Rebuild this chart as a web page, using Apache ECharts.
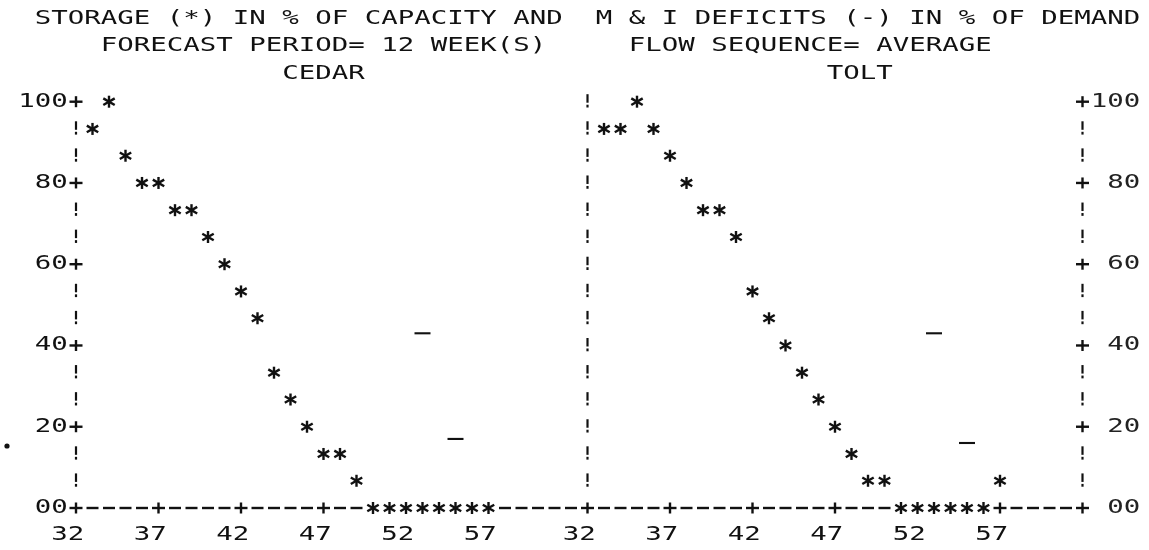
<!DOCTYPE html>
<html>
<head>
<meta charset="utf-8">
<script src="https://cdn.jsdelivr.net/npm/echarts@6/dist/echarts.min.js"></script>
<style>
  html, body { margin: 0; padding: 0; background: #fff; }
  #chart { width: 1149px; height: 550px; }
</style>
</head>
<body>
<div id="chart"></div>
<script>
// ---- data: one print column per week, storage rounded to print lines ----
const weeks = [33, 34, 35, 36, 37, 38, 39, 40, 41, 42, 43, 44, 45, 46, 47, 48, 49, 50, 51, 52, 53, 54, 55, 56, 57];
const cedarStorage = [93.3, 100, 86.7, 80, 80, 73.3, 73.3, 66.7, 60, 53.3, 46.7, 33.3, 26.7, 20, 13.3, 13.3, 6.7, 0, 0, 0, 0, 0, 0, 0, 0];
const toltStorage  = [93.3, 93.3, 100, 93.3, 86.7, 80, 73.3, 73.3, 66.7, 53.3, 46.7, 40, 33.3, 26.7, 20, 13.3, 6.7, 6.7, 0, 0, 0, 0, 0, 0, 6.7];
const deficitWeeks = [53, 55];
const cedarDeficit = [43, 17];
const toltDeficit  = [43, 16];

const weekTicks  = [32, 37, 42, 47, 52, 57];
const weekLabels = ['32', '37', '42', '47', '52', '57'];
const valueTicks = [0, 20, 40, 60, 80, 100];
const valueLabels = ['00', '20', '40', '60', '80', '100'];

const titleLine1 = 'STORAGE (*) IN % OF CAPACITY AND  M & I DEFICITS (-) IN % OF DEMAND';
const titleLine2a = 'FORECAST PERIOD= 12 WEEK(S)';
const titleLine2b = 'FLOW SEQUENCE= AVERAGE';
const panelNames = ['CEDAR', 'TOLT'];

// ---- printer layout ----
const CELL = 16.5;            // width of one print column
const PLOT_LEFT = 76;
const PLOT_TOP = 101.7;
const PLOT_H = 406.3;
const LEFT_COLS = 31;         // CEDAR panel columns up to the TOLT axis
const RIGHT_COLS = 30;
const LINES_PER_TICK = 3;
const ROW_STEP = (valueTicks[1] - valueTicks[0]) / LINES_PER_TICK;
const N_ROWS = Math.round((valueTicks[valueTicks.length - 1] - valueTicks[0]) / ROW_STEP);
const LAST_WEEK = 62;
const FONT_SIZE = 19;
const FONT = FONT_SIZE + 'px "DejaVu Sans Mono"';
const SCALE_X = CELL / (0.6021 * FONT_SIZE);
const INK = '#111';

// glyph kinds drawn as strokes
const PLUS = 0, BANG = 1, DASH = 2, STAR = 3, BAR = 4;
const GLYPHS = {
  [PLUS]: { w: 2.4, segs: [[-6.5, 0, 6.5, 0], [0, -5.5, 0, 5.5]] },
  [BANG]: { w: 2.2, segs: [[0, -7.5, 0, 1], [0, 3, 0, 5.8]] },
  [DASH]: { w: 2.4, segs: [[-6, 0, 6, 0]] },
  [STAR]: { w: 2.4, segs: [[0, -6, 0, 6], [-5.7, -3.3, 5.7, 3.3], [-5.7, 3.3, 5.7, -3.3]] },
  [BAR]:  { w: 2.1, segs: [[-8, 0, 8, 0]] }
};

function glyphAt(p, kind) {
  const g = GLYPHS[kind];
  return {
    type: 'group',
    children: g.segs.map(s => ({
      type: 'line',
      shape: { x1: p[0] + s[0], y1: p[1] + s[1], x2: p[0] + s[2], y2: p[1] + s[3] },
      style: { stroke: INK, lineWidth: g.w, lineCap: 'butt' }
    }))
  };
}

function renderGlyph(params, api) {
  const p = api.coord([api.value(0), api.value(1)]);
  return glyphAt(p, api.value(2));
}

// axis frame built from print characters: '+' at ticks, '!' between, '-' along the base
function frameGlyphs(storage, plusOnLeftTicks, rightAxis) {
  const out = [];
  for (let k = 1; k <= N_ROWS; k++) {
    const v = k * ROW_STEP;
    out.push([weekTicks[0], v, (plusOnLeftTicks && k % LINES_PER_TICK === 0) ? PLUS : BANG]);
    if (rightAxis) out.push([LAST_WEEK, v, k % LINES_PER_TICK === 0 ? PLUS : BANG]);
  }
  out.push([weekTicks[0], 0, PLUS]);
  for (let w = weekTicks[0] + 1; w <= LAST_WEEK; w++) {
    const i = weeks.indexOf(w);
    if (i >= 0 && storage[i] === 0) continue;
    if (rightAxis && w === LAST_WEEK) { out.push([w, 0, PLUS]); continue; }
    out.push([w, 0, weekTicks.includes(w) ? PLUS : DASH]);
  }
  return out;
}

function glyphSeries(idx, pts, kind, name) {
  return {
    type: 'custom', name: name, xAxisIndex: idx, yAxisIndex: idx,
    clip: false, silent: true,
    dimensions: ['week', 'value', 'kind'],
    encode: { x: 0, y: 1 },
    data: pts.map(p => [p[0], p[1], p.length > 2 ? p[2] : kind]),
    renderItem: renderGlyph
  };
}

const chart = echarts.init(document.getElementById('chart'), null, { renderer: 'canvas' });

chart.setOption({
  animation: false,
  backgroundColor: '#fff',
  grid: [
    { left: PLOT_LEFT, top: PLOT_TOP, width: CELL * LEFT_COLS, height: PLOT_H, outerBoundsMode: 'none' },
    { left: PLOT_LEFT + CELL * LEFT_COLS, top: PLOT_TOP, width: CELL * RIGHT_COLS, height: PLOT_H, outerBoundsMode: 'none' }
  ],
  xAxis: [
    { gridIndex: 0, type: 'value', min: weekTicks[0], max: weekTicks[0] + LEFT_COLS, show: false },
    { gridIndex: 1, type: 'value', min: weekTicks[0], max: weekTicks[0] + RIGHT_COLS, show: false }
  ],
  yAxis: [
    { gridIndex: 0, type: 'value', min: valueTicks[0], max: valueTicks[valueTicks.length - 1], show: false },
    { gridIndex: 1, type: 'value', min: valueTicks[0], max: valueTicks[valueTicks.length - 1], show: false }
  ],
  series: [
    glyphSeries(0, frameGlyphs(cedarStorage, true, false), null, 'CEDAR frame'),
    glyphSeries(1, frameGlyphs(toltStorage, false, true), null, 'TOLT frame'),
    glyphSeries(0, weeks.map((w, i) => [w, cedarStorage[i]]), STAR, 'CEDAR storage'),
    glyphSeries(1, weeks.map((w, i) => [w, toltStorage[i]]), STAR, 'TOLT storage'),
    glyphSeries(0, deficitWeeks.map((w, i) => [w, cedarDeficit[i]]), BAR, 'CEDAR deficit'),
    glyphSeries(1, deficitWeeks.map((w, i) => [w, toltDeficit[i]]), BAR, 'TOLT deficit')
  ]
});

// ---- printed text on the same column / line grid ----
const x0 = chart.convertToPixel({ xAxisIndex: 0 }, weekTicks[0]);
const cell = chart.convertToPixel({ xAxisIndex: 0 }, weekTicks[0] + 1) - x0;
const cellLeft = col => x0 + col * cell - cell / 2;
const lineY = v => chart.convertToPixel({ yAxisIndex: 0 }, v);
const topY = valueTicks[valueTicks.length - 1];

function printText(str, col, y, fill) {
  return {
    type: 'text', x: cellLeft(col), y: y, scaleX: SCALE_X, silent: true,
    style: { text: str, font: FONT, fill: fill || INK, align: 'left', verticalAlign: 'middle',
             textAlign: 'left', textVerticalAlign: 'middle' }
  };
}

const texts = [];
texts.push(printText(titleLine1, -2, lineY(topY + 3 * ROW_STEP) - 1));
texts.push(printText(titleLine2a, 2, lineY(topY + 2 * ROW_STEP) - 1));
texts.push(printText(titleLine2b, 34, lineY(topY + 2 * ROW_STEP) - 1));
texts.push(printText(panelNames[0], 13, lineY(topY + ROW_STEP) - 1));
texts.push(printText(panelNames[1], 46, lineY(topY + ROW_STEP) - 1));

const rightAxisCol = LEFT_COLS + RIGHT_COLS;
valueTicks.forEach((v, i) => {
  const lab = valueLabels[i];
  texts.push(printText(lab, -lab.length, lineY(v)));
  texts.push(printText(lab, rightAxisCol + 4 - lab.length, lineY(v), '#222'));
});

const baseY = lineY(valueTicks[0] - ROW_STEP);
weekTicks.forEach((w, i) => {
  const c = w - weekTicks[0];
  texts.push(printText(weekLabels[i], c - 1, baseY));
  texts.push(printText(weekLabels[i], LEFT_COLS + c - 1, baseY));
});

// ink speck in the left margin of the printout
texts.push({ type: 'circle', silent: true, shape: { cx: 7, cy: 446, r: 2.6 }, style: { fill: INK } });

chart.setOption({ graphic: { elements: texts } });
</script>
</body>
</html>
